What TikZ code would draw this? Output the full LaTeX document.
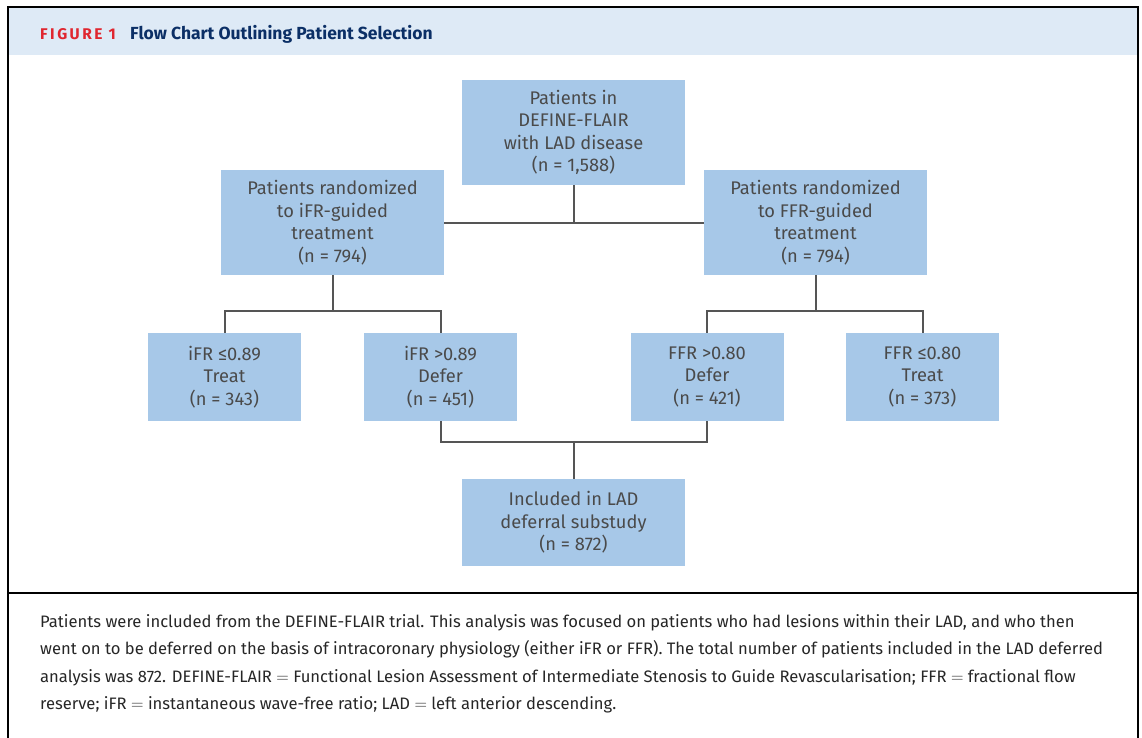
\documentclass[tikz,border=0pt]{standalone}
\usepackage{fontspec}
\setmainfont{Fira Sans}
\definecolor{boxblue}{HTML}{A7C8E8}
\definecolor{boxtext}{HTML}{4A4A4A}
\definecolor{linegray}{HTML}{555555}
\definecolor{headblue}{HTML}{DEEAF6}
\definecolor{navy}{HTML}{0B2F66}
\definecolor{figred}{HTML}{E0262F}
\begin{document}
\begin{tikzpicture}[x=1pt,y=-1pt,
		box/.style={fill=boxblue,text=boxtext,align=center,inner sep=0pt,
			font=\fontsize{18.3}{22.5}\selectfont},
		wide/.style={box,minimum width=223pt,minimum height=105pt},
		small/.style={box,minimum width=153pt,minimum height=88pt},
		link/.style={draw=linegray,line width=2pt}]
		\useasboundingbox (0,0) rectangle (1142,738);
		
		% Frame
		\fill[headblue] (8,8) rectangle (1138,55);
		\draw[line width=1.6pt] (8,738) -- (8,7) -- (1138,7) -- (1138,738);
		\draw[line width=2pt] (8,593) -- (1138,593);
		
		% Title
		\node[anchor=base west,inner sep=0pt,text=figred,
			font=\fontsize{15.5}{17}\bfseries\addfontfeature{LetterSpace=16}] (fig) at (40,40) {FIGURE 1};
		\node[anchor=base west,inner sep=0pt,text=navy,
			font=\fontsize{17.5}{19}\bfseries] (title) at (130,40) {Flow Chart Outlining Patient Selection};
		
		% Boxes
		\node[wide] (all) at (573.5,132.5) {Patients in\\DEFINE-FLAIR\\with LAD disease\\(n = 1,588)};
		\node[wide] (ifr) at (332.5,222.5) {Patients randomized\\to iFR-guided\\treatment\\(n = 794)};
		\node[wide] (ffr) at (815.5,222.5) {Patients randomized\\to FFR-guided\\treatment\\(n = 794)};
		\node[small] (ifrtreat) at (224.5,377) {iFR ≤0.89\\Treat\\(n = 343)};
		\node[small] (ifrdefer) at (440.5,377) {iFR >0.89\\Defer\\(n = 451)};
		\node[small] (ffrdefer) at (707,377) {FFR >0.80\\Defer\\(n = 421)};
		\node[small] (ffrtreat) at (922.5,377) {FFR ≤0.80\\Treat\\(n = 373)};
		\node[box,minimum width=223pt,minimum height=87pt] (incl) at (573.5,522.5) {Included in LAD\\deferral substudy\\(n = 872)};
		
		% Split points
		\coordinate (isplit) at (332.5,311);
		\coordinate (fsplit) at (815.5,311);
		\coordinate (dsplit) at (573.5,442);
		
		% Links
		\draw[link] (ifr.east) -- (ffr.west);
		\draw[link] (all.south) -- (all.south |- ifr.east);
		\draw[link] (ifr.south) -- (isplit);
		\draw[link] (ifrtreat.north) |- (isplit) -| (ifrdefer.north);
		\draw[link] (ffr.south) -- (fsplit);
		\draw[link] (ffrdefer.north) |- (fsplit) -| (ffrtreat.north);
		\draw[link] (ifrdefer.south) |- (dsplit) -| (ffrdefer.south);
		\draw[link] (dsplit) -- (incl.north);
		
		% Caption
		\node[anchor=north west,align=left,inner sep=0pt,text=black!85,
			font=\fontsize{16.6}{27.5}\selectfont] (caption) at (40,614)
			{Patients were included from the DEFINE-FLAIR trial. This analysis was focused on patients who had lesions within their LAD, and who then\\
			went on to be deferred on the basis of intracoronary physiology (either iFR or FFR). The total number of patients included in the LAD deferred\\
			analysis was 872. DEFINE-FLAIR~$=$ Functional Lesion Assessment of Intermediate Stenosis to Guide Revascularisation; FFR~$=$ fractional flow\\
			reserve; iFR~$=$ instantaneous wave-free ratio; LAD~$=$ left anterior descending.};
	\end{tikzpicture}
\end{document}
